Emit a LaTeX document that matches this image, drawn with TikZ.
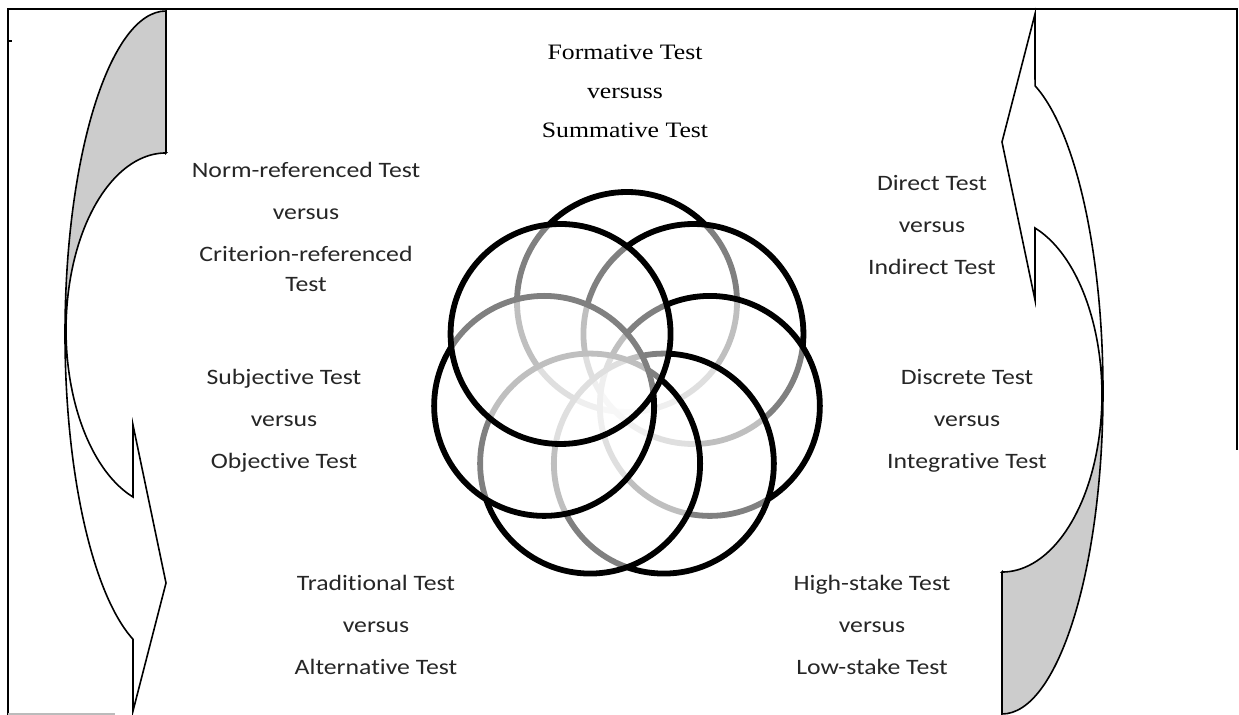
\documentclass[tikz,border=0pt]{standalone}
\usepackage{fontspec}
\setmainfont{Liberation Serif}[FakeStretch=1.17]
\newfontfamily\calibrifont{Carlito}[FakeStretch=1.17, Ligatures=NoCommon]
\usepackage{tikz}
\definecolor{bandgray}{HTML}{CCCCCC}
\definecolor{framegray}{HTML}{BBBBBB}

% curved band arrow (left one); the right one is the same turned round
\tikzset{
  bendarrow/.pic={
    \fill[bandgray] (166,11)
      arc[start angle=90, end angle=180, x radius=50.5pt, y radius=161.5pt]
      -- (66,330)
      arc[start angle=180, end angle=90, x radius=50pt, y radius=88.5pt]
      -- cycle;
    \draw[line width=0.8pt, line join=miter] (166,153) -- (166,11)
      arc[start angle=90, end angle=250.9, x radius=50.5pt, y radius=161.5pt]
      -- (133,711) -- (166,583) -- (133,425) -- (133,497)
      arc[start angle=250.7, end angle=90, x radius=50pt, y radius=88.5pt]
      -- cycle;
  }
}

\begin{document}
\begin{tikzpicture}[
  x=0.5pt, y=-0.5pt,
  ring/.style={
    circle,
    draw=black,
    line width=2.9pt,
    fill=white,
    fill opacity=0.5,
    minimum size=110pt,
    inner sep=0pt
  },
  pairtext/.style={
    align=center,
    inner sep=0pt,
    font=\calibrifont\fontsize{11}{21}\selectfont,
    text=black!85
  },
  serifpair/.style={
    align=center,
    inner sep=0pt,
    font=\fontsize{11}{19.5}\selectfont
  }
]
\useasboundingbox (0,0) rectangle (1239,715);

% page frame
\draw[line width=1.1pt] (8,715) -- (8,9) -- (1237,9) -- (1237,450);
\draw[line width=1pt] (8,41) -- (12,41);
\draw[framegray, line width=1pt] (8,714) -- (115,714);

% the two curved arrows
\pic (leftband) at (0,0) {bendarrow};
\pic[rotate=180] (rightband) at (1168,725) {bendarrow};

% rosette of seven rings, drawn clockwise from the top
\foreach \k in {0,...,6}
  \node[ring] (ring\k) at ({627+85*cos(90-51.43*\k)},{387-85*sin(90-51.43*\k)}) {};

% the seven pairs of tests
\node[serifpair] (formative) at (625,91)
  {Formative Test\\versuss\\Summative Test};
\node[pairtext] (norm) at (306,227)
  {Norm-referenced Test\\versus\\Criterion-referenced\\[-6pt]Test};
\node[pairtext] (direct) at (932,225)
  {Direct Test\\versus\\Indirect Test};
\node[pairtext] (subjective) at (284,421)
  {Subjective Test\\versus\\Objective Test};
\node[pairtext] (discrete) at (967,421)
  {Discrete Test\\versus\\Integrative Test};
\node[pairtext] (traditional) at (376,625)
  {Traditional Test\\versus\\Alternative Test};
\node[pairtext] (highstake) at (872,625)
  {High-stake Test\\versus\\Low-stake Test};

\end{tikzpicture}
\end{document}
